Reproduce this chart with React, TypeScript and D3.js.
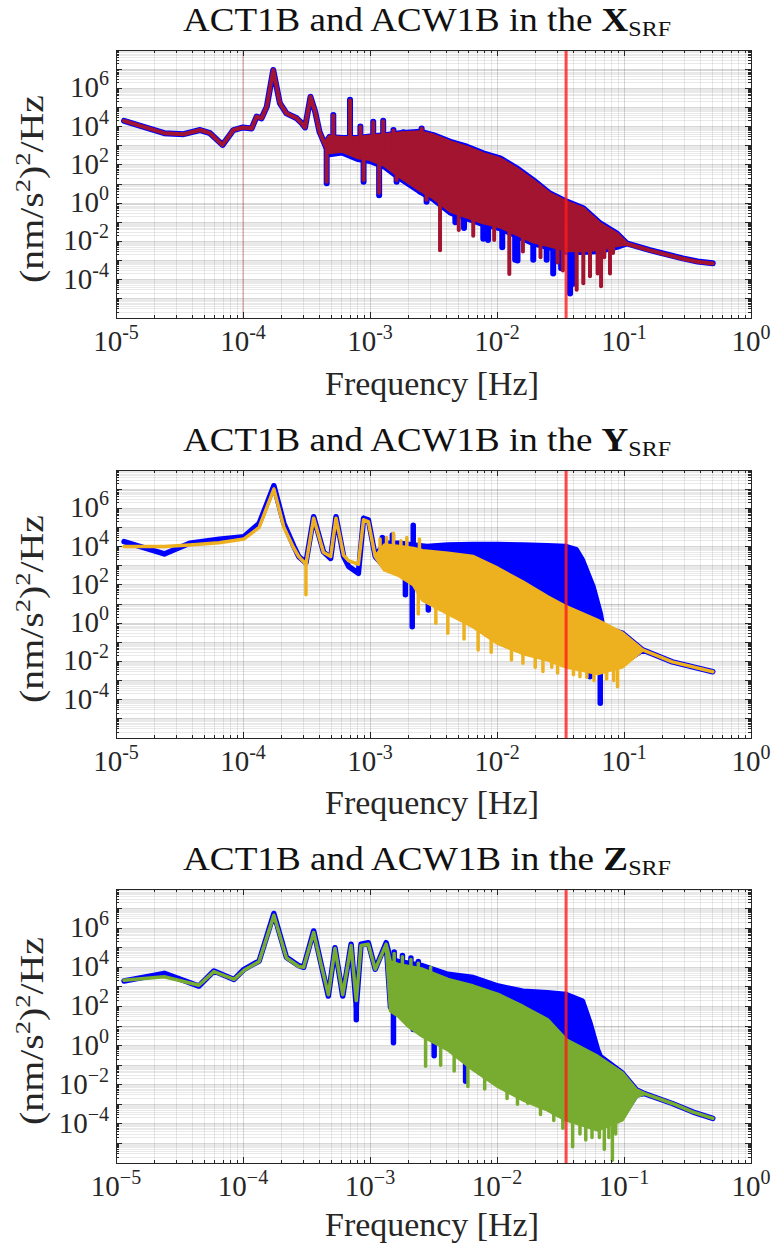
import React from "react";
import * as d3 from "d3";

type Env = [number, number, number][]; // [frequency Hz, upper PSD, lower PSD]
type Spike = [number, number]; // [frequency Hz, PSD reached by the spike]

// ---------------- axes ----------------
const xDomain: [number, number] = [1e-5, 1];
const yDomain: [number, number] = [1e-6, 1e8];
const xTickValues = [1e-5, 1e-4, 1e-3, 1e-2, 1e-1, 1];
const xTickExponents = ["-5", "-4", "-3", "-2", "-1", "0"];
const yTickValues = [1e6, 1e4, 1e2, 1, 1e-2, 1e-4];
const yTickExponents = ["6", "4", "2", "0", "-2", "-4"];
const markerFrequency = 0.035;
const referenceFrequency = 1e-4;
const axisNames = ["X", "Y", "Z"];
const seriesColors = ["#0000ff", "#a2142f", "#edb120", "#77ac30"];

// ---------------- X_SRF ----------------
const xACT1B: Env = [
  [1.157e-5, 2.0e4, 2.0e4], [2.4e-5, 4.5e3, 4.5e3], [3.4e-5, 4.0e3, 4.0e3], [4.6e-5, 6.6e3, 6.6e3],
  [5.5e-5, 4.5e3, 4.5e3], [6.9e-5, 1.1e3, 1.1e3], [8.4e-5, 6.6e3, 6.6e3], [1.0e-4, 9.0e3, 9.0e3],
  [1.17e-4, 8.0e3, 8.0e3], [1.28e-4, 3.3e4, 3.3e4], [1.4e-4, 2.7e4, 2.7e4], [1.54e-4, 1.1e5, 1.1e5],
  [1.73e-4, 9.0e6, 9.0e6], [1.95e-4, 1.7e5, 1.7e5], [2.2e-4, 4.9e4, 4.9e4], [2.65e-4, 2.7e4, 2.7e4],
  [2.9e-4, 1.5e4, 1.5e4], [3.08e-4, 9.0e3, 9.0e3], [3.4e-4, 3.6e5, 3.6e5], [3.7e-4, 6.0e4, 6.0e4],
  [4.0e-4, 5.4e3, 5.4e3], [4.4e-4, 1.2e3, 1.2e3], [4.8e-4, 2.9e3, 3.6e2], [6.0e-4, 2.5e3, 4.4e2],
  [8.0e-4, 2.5e3, 2.0e2], [1.0e-3, 3.0e3, 1.6e2], [1.3e-3, 3.5e3, 8.0e1], [1.72e-3, 4.5e3, 2.0e1],
  [2.48e-3, 5.4e3, 4.0e0], [3.15e-3, 3.6e3, 1.6e0], [4.3e-3, 1.6e3, 3.2e-1], [5.8e-3, 8.9e2, 1.6e-1],
  [7.8e-3, 4.0e2, 8.0e-2], [1.06e-2, 2.2e2, 4.8e-2], [1.43e-2, 6.6e1, 2.0e-2], [1.93e-2, 1.6e1, 8.0e-3],
  [2.61e-2, 3.2e0, 4.8e-3], [3.54e-2, 1.2e0, 2.8e-3], [4.78e-2, 5.4e-1, 2.8e-3], [6.5e-2, 8.7e-2, 3.2e-3],
  [8.8e-2, 2.6e-2, 5.2e-3], [1.05e-1, 7.9e-3, 7.9e-3], [1.6e-1, 3.5e-3, 3.5e-3], [2.9e-1, 1.3e-3, 1.3e-3],
  [3.8e-1, 9.0e-4, 9.0e-4], [5.0e-1, 7.2e-4, 7.2e-4],
];
const xACW1B: Env = [
  [1.157e-5, 2.0e4, 2.0e4], [2.4e-5, 4.5e3, 4.5e3], [3.4e-5, 4.0e3, 4.0e3], [4.6e-5, 6.6e3, 6.6e3],
  [5.5e-5, 4.5e3, 4.5e3], [6.9e-5, 1.1e3, 1.1e3], [8.4e-5, 6.6e3, 6.6e3], [1.0e-4, 9.0e3, 9.0e3],
  [1.17e-4, 8.0e3, 8.0e3], [1.28e-4, 3.3e4, 3.3e4], [1.4e-4, 2.7e4, 2.7e4], [1.54e-4, 1.1e5, 1.1e5],
  [1.73e-4, 9.0e6, 9.0e6], [1.95e-4, 1.7e5, 1.7e5], [2.2e-4, 4.9e4, 4.9e4], [2.65e-4, 2.7e4, 2.7e4],
  [2.9e-4, 1.5e4, 1.5e4], [3.08e-4, 9.0e3, 9.0e3], [3.4e-4, 3.6e5, 3.6e5], [3.7e-4, 6.0e4, 6.0e4],
  [4.0e-4, 5.4e3, 5.4e3], [4.4e-4, 1.2e3, 1.2e3], [4.8e-4, 2.9e3, 4.5e2], [6.0e-4, 2.5e3, 5.5e2],
  [8.0e-4, 2.5e3, 2.5e2], [1.0e-3, 3.0e3, 2.0e2], [1.3e-3, 3.5e3, 1.0e2], [1.72e-3, 4.3e3, 2.5e1],
  [2.48e-3, 5.0e3, 5.0e0], [3.15e-3, 3.4e3, 2.0e0], [4.3e-3, 1.5e3, 4.0e-1], [5.8e-3, 8.0e2, 2.0e-1],
  [7.8e-3, 3.6e2, 1.0e-1], [1.06e-2, 2.0e2, 6.0e-2], [1.43e-2, 6.0e1, 2.5e-2], [1.93e-2, 1.4e1, 1.0e-2],
  [2.61e-2, 3.0e0, 6.0e-3], [3.54e-2, 1.1e0, 3.5e-3], [4.78e-2, 5.0e-1, 3.5e-3], [6.5e-2, 8.0e-2, 4.0e-3],
  [8.8e-2, 2.4e-2, 6.5e-3], [1.05e-1, 7.6e-3, 7.6e-3], [1.6e-1, 3.4e-3, 3.4e-3], [2.9e-1, 1.25e-3, 1.25e-3],
  [3.8e-1, 8.7e-4, 8.7e-4], [5.0e-1, 7.0e-4, 7.0e-4],
];
const xACT1BUp: Spike[] = [
  [5.14e-4, 4.0e4], [6.96e-4, 2.5e5], [8.4e-4, 1.0e4], [1.06e-3, 1.8e4], [1.27e-3, 2.0e4],
  [1.53e-3, 6.6e3], [1.83e-3, 5.0e3], [2.55e-3, 8.0e3],
];
const xACT1BDown: Spike[] = [
  [4.56e-4, 1.1e1], [8.9e-4, 1.3e1], [1.18e-3, 2.6e0], [1.62e-3, 1.3e1], [2.48e-3, 4.0e0],
  [2.79e-3, 1.2e0], [4.7e-3, 1.0e-1], [5.5e-3, 5.0e-2], [7.8e-3, 1.4e-2], [8.5e-3, 1.2e-2],
  [1.1e-2, 5.0e-3], [1.39e-2, 1.1e-3], [1.45e-2, 1.0e-3], [1.93e-2, 1.1e-3], [2.46e-2, 1.1e-3],
  [2.77e-2, 2.1e-4], [3.2e-2, 4.0e-4], [3.76e-2, 1.9e-5], [3.94e-2, 6.0e-5],
];
const xACW1BUp: Spike[] = [
  [5.14e-4, 3.8e4], [6.96e-4, 2.3e5], [8.4e-4, 9.5e3], [1.06e-3, 1.7e4], [1.27e-3, 1.9e4],
  [1.53e-3, 6.2e3], [1.83e-3, 4.8e3], [2.55e-3, 7.6e3],
];
const xACW1BDown: Spike[] = [
  [4.56e-4, 1.3e1], [8.9e-4, 1.6e1], [1.18e-3, 3.5e0], [1.62e-3, 1.6e1], [2.79e-3, 1.5e0],
  [3.56e-3, 3.5e-3], [5.0e-3, 4.0e-2], [6.5e-3, 2.0e-2], [9.5e-3, 1.2e-2], [1.25e-2, 2.0e-4],
  [1.6e-2, 3.0e-3], [2.2e-2, 1.5e-3], [3.0e-2, 8.0e-4], [3.3e-2, 3.0e-4], [4.24e-2, 3.0e-5],
  [4.78e-2, 6.5e-5], [5.4e-2, 1.5e-4], [6.2e-2, 2.1e-4], [6.6e-2, 4.5e-5], [7.0e-2, 1.5e-3],
  [7.76e-2, 2.1e-4], [8.2e-2, 2.5e-3],
];

// ---------------- Y_SRF ----------------
const yACT1B: Env = [
  [1.157e-5, 1.8e4, 1.8e4], [2.4e-5, 4.1e3, 4.1e3], [3.8e-5, 1.5e4, 1.5e4], [6.5e-5, 2.4e4, 2.4e4],
  [1.02e-4, 3.3e4, 3.3e4], [1.34e-4, 1.6e5, 1.6e5], [1.75e-4, 1.5e7, 1.5e7], [2.1e-4, 1.6e5, 1.6e5],
  [2.52e-4, 1.0e4, 1.0e4], [2.75e-4, 3.0e3, 3.0e3], [3.13e-4, 1.4e3, 1.4e3], [3.6e-4, 3.6e5, 3.6e5],
  [4.3e-4, 5.4e3, 5.4e3], [4.9e-4, 2.4e3, 2.4e3], [5.4e-4, 3.6e5, 3.6e5], [6.2e-4, 3.0e3, 3.0e3],
  [6.8e-4, 9.0e2, 9.0e2], [8.1e-4, 4.0e2, 4.0e2], [8.9e-4, 3.0e5, 3.0e5], [9.7e-4, 2.5e5, 2.5e5],
  [1.1e-3, 3.0e3, 3.0e3], [1.3e-3, 1.5e4, 9.0e2], [1.7e-3, 1.5e4, 4.5e2], [2.2e-3, 1.2e4, 1.5e2],
  [2.8e-3, 1.0e4, 2.4e1], [4.1e-3, 1.2e4, 4.8e0], [6.5e-3, 1.3e4, 1.0e0], [1.02e-2, 1.3e4, 1.3e-1],
  [1.6e-2, 1.2e4, 3.9e-2], [2.5e-2, 1.1e4, 1.8e-2], [3.5e-2, 1.0e4, 7.8e-3], [4.2e-2, 7.0e3, 5.5e-3],
  [4.7e-2, 2.0e3, 4.8e-3], [5.7e-2, 8.0e1, 3.9e-3], [6.5e-2, 3.2e0, 3.6e-3], [6.8e-2, 6.0e-1, 3.8e-3],
  [9.7e-2, 3.0e-1, 7.8e-3], [1.4e-1, 4.0e-2, 4.0e-2], [2.4e-1, 9.5e-3, 9.5e-3], [5.0e-1, 2.9e-3, 2.9e-3],
];
const yACW1B: Env = [
  [1.157e-5, 1.0e4, 1.0e4], [2.4e-5, 1.0e4, 1.0e4], [3.8e-5, 1.2e4, 1.2e4], [6.5e-5, 1.6e4, 1.6e4],
  [1.02e-4, 2.5e4, 2.5e4], [1.34e-4, 1.0e5, 1.0e5], [1.75e-4, 1.0e7, 1.0e7], [2.1e-4, 1.0e5, 1.0e5],
  [2.52e-4, 8.0e3, 8.0e3], [2.75e-4, 3.0e3, 3.0e3], [3.13e-4, 1.2e3, 1.2e3], [3.6e-4, 3.0e5, 3.0e5],
  [4.3e-4, 5.0e3, 5.0e3], [4.9e-4, 3.0e3, 3.0e3], [5.4e-4, 3.0e5, 3.0e5], [6.2e-4, 3.5e3, 3.5e3],
  [6.8e-4, 1.8e3, 1.8e3], [8.1e-4, 1.2e3, 1.2e3], [8.9e-4, 2.5e5, 2.5e5], [9.7e-4, 2.0e5, 2.0e5],
  [1.1e-3, 3.0e3, 3.0e3], [1.3e-3, 1.2e4, 6.0e2], [1.7e-3, 1.0e4, 3.0e2], [2.2e-3, 8.0e3, 1.0e2],
  [2.6e-3, 6.0e3, 1.6e1], [4.1e-3, 4.5e3, 3.2e0], [6.5e-3, 3.0e3, 6.5e-1], [1.02e-2, 7.2e2, 8.7e-2],
  [1.6e-2, 1.4e2, 2.6e-2], [2.5e-2, 2.4e1, 1.2e-2], [3.5e-2, 7.2e0, 5.2e-3], [6.2e-2, 1.4e0, 2.3e-3],
  [9.7e-2, 3.0e-1, 5.2e-3], [1.4e-1, 4.0e-2, 4.0e-2], [2.4e-1, 9.5e-3, 9.5e-3], [5.0e-1, 2.9e-3, 2.9e-3],
];
const yACT1BUp: Spike[] = [[1.25e-3, 3.0e4], [1.5e-3, 4.0e4], [2.19e-3, 1.3e5]];
const yACT1BDown: Spike[] = [
  [1.9e-3, 3.0e1], [2.15e-3, 6.5e-1], [2.88e-3, 4.9e0], [5.4e-2, 1.6e-3], [6.5e-2, 6.5e-5],
];
const yACW1BUp: Spike[] = [
  [1.2e-3, 2.5e4], [1.35e-3, 3.0e4], [1.53e-3, 4.9e4], [1.75e-3, 2.0e4], [1.95e-3, 3.0e4], [2.45e-3, 2.5e4],
];
const yACW1BDown: Spike[] = [
  [3.13e-4, 3.0e1], [2.4e-3, 3.0e0], [3.3e-3, 1.0e0], [4.1e-3, 3.0e-1], [5.5e-3, 1.5e-1],
  [7.1e-3, 4.0e-2], [9.0e-3, 3.0e-2], [1.3e-2, 1.2e-2], [1.6e-2, 8.0e-3], [2.0e-2, 5.0e-3],
  [2.3e-2, 3.0e-3], [2.7e-2, 5.0e-3], [3.0e-2, 2.5e-3], [4.0e-2, 2.0e-3], [4.5e-2, 1.6e-3],
  [5.1e-2, 1.5e-3], [5.8e-2, 1.0e-3], [7.3e-2, 1.2e-3], [8.3e-2, 1.0e-3], [8.9e-2, 4.8e-4],
];

// ---------------- Z_SRF ----------------
const zACT1B: Env = [
  [1.157e-5, 2.0e3, 2.0e3], [2.4e-5, 4.9e3, 4.9e3], [4.5e-5, 1.1e3, 1.1e3], [5.9e-5, 6.5e3, 6.5e3],
  [8.5e-5, 2.4e3, 2.4e3], [1.02e-4, 7.9e3, 7.9e3], [1.34e-4, 2.1e4, 2.1e4], [1.75e-4, 5.5e6, 5.5e6],
  [2.2e-4, 3.2e4, 3.2e4], [2.75e-4, 1.2e4, 1.2e4], [3.0e-4, 1.0e4, 1.0e4], [3.6e-4, 7.2e5, 7.2e5],
  [4.1e-4, 1.7e4, 1.7e4], [4.7e-4, 3.4e2, 3.4e2], [5.3e-4, 1.0e5, 1.0e5], [6.1e-4, 3.4e2, 3.4e2],
  [7.1e-4, 1.5e5, 1.5e5], [7.8e-4, 1.0e2, 1.0e2], [8.5e-4, 1.5e5, 1.5e5], [9.7e-4, 1.8e5, 1.8e5],
  [1.1e-3, 8.0e3, 8.0e3], [1.34e-3, 1.8e5, 1.8e5], [1.45e-3, 2.5e4, 9.0e1], [1.67e-3, 2.0e4, 4.8e1],
  [2.0e-3, 1.6e4, 1.5e1], [2.6e-3, 1.2e4, 4.5e0], [4.1e-3, 4.4e3, 9.3e-1], [6.5e-3, 3.0e3, 8.9e-2],
  [1.02e-2, 1.1e3, 1.2e-2], [1.6e-2, 6.0e2, 2.6e-3], [2.5e-2, 5.0e2, 7.8e-4], [3.5e-2, 4.1e2, 2.4e-4],
  [4.7e-2, 1.9e2, 1.2e-4], [5.4e-2, 1.4e1, 1.0e-4], [6.2e-2, 6.0e-1, 7.4e-5], [6.5e-2, 2.8e-1, 8.3e-5],
  [9.7e-2, 4.0e-2, 2.4e-4], [1.25e-1, 5.5e-3, 3.0e-3], [1.45e-1, 3.5e-3, 3.5e-3], [2.4e-1, 1.1e-3, 1.1e-3],
  [3.5e-1, 4.0e-4, 4.0e-4], [5.0e-1, 1.9e-4, 1.9e-4],
];
const zACW1B: Env = [
  [1.157e-5, 2.2e3, 2.2e3], [2.4e-5, 3.3e3, 3.3e3], [4.5e-5, 1.2e3, 1.2e3], [5.9e-5, 6.0e3, 6.0e3],
  [8.5e-5, 2.4e3, 2.4e3], [1.02e-4, 7.0e3, 7.0e3], [1.34e-4, 2.0e4, 2.0e4], [1.75e-4, 4.5e6, 4.5e6],
  [2.2e-4, 3.0e4, 3.0e4], [2.75e-4, 1.1e4, 1.1e4], [3.0e-4, 1.0e4, 1.0e4], [3.6e-4, 6.0e5, 6.0e5],
  [4.1e-4, 1.6e4, 1.6e4], [4.7e-4, 4.0e2, 4.0e2], [5.3e-4, 9.0e4, 9.0e4], [6.1e-4, 4.0e2, 4.0e2],
  [7.1e-4, 1.3e5, 1.3e5], [7.8e-4, 2.0e2, 2.0e2], [8.5e-4, 1.3e5, 1.3e5], [9.7e-4, 1.5e5, 1.5e5],
  [1.1e-3, 8.0e3, 8.0e3], [1.34e-3, 1.5e5, 1.5e5], [1.45e-3, 1.8e4, 6.0e1], [1.67e-3, 1.4e4, 3.2e1],
  [2.0e-3, 1.1e4, 1.0e1], [2.6e-3, 7.9e3, 3.0e0], [4.1e-3, 2.4e3, 6.2e-1], [6.5e-3, 1.1e3, 5.9e-2],
  [1.02e-2, 4.1e2, 8.1e-3], [1.6e-2, 1.0e2, 1.7e-3], [2.5e-2, 2.1e1, 5.2e-4], [3.5e-2, 2.0e0, 1.6e-4],
  [6.2e-2, 2.8e-1, 4.9e-5], [9.7e-2, 4.0e-2, 1.6e-4], [1.25e-1, 5.5e-3, 2.5e-3], [1.45e-1, 3.5e-3, 3.5e-3],
  [2.4e-1, 1.1e-3, 1.1e-3], [3.5e-1, 4.0e-4, 4.0e-4], [5.0e-1, 1.9e-4, 1.9e-4],
];
const zACT1BUp: Spike[] = [[1.55e-3, 6.0e4], [1.8e-3, 4.0e4], [2.1e-3, 3.0e4], [2.4e-3, 2.0e4]];
const zACT1BDown: Spike[] = [
  [7.8e-4, 2.1e1], [1.53e-3, 1.4e0], [2.19e-3, 6.6e0], [3.2e-3, 3.0e-1], [5.66e-3, 1.5e-2], [7.35e-3, 8.7e-2],
];
const zACW1BUp: Spike[] = [[1.55e-3, 5.0e4], [1.8e-3, 3.5e4], [2.1e-3, 2.5e4], [2.4e-3, 1.6e4], [3.0e-3, 1.0e4]];
const zACW1BDown: Spike[] = [
  [2.74e-3, 8.7e-2], [3.6e-3, 1.0e-1], [4.6e-3, 5.0e-2], [5.9e-3, 8.1e-3], [8.0e-3, 6.0e-3],
  [1.2e-2, 2.0e-3], [1.45e-2, 1.0e-3], [1.75e-2, 1.1e-3], [2.2e-2, 3.0e-4], [2.8e-2, 1.5e-4],
  [3.3e-2, 6.0e-5], [3.94e-2, 6.8e-6], [4.5e-2, 3.0e-5], [5.0e-2, 1.5e-5], [5.6e-2, 2.0e-5],
  [6.4e-2, 2.0e-5], [7.0e-2, 5.0e-6], [7.6e-2, 2.0e-5], [8.1e-2, 1.4e-6], [8.6e-2, 3.0e-5],
];

// ---------------- layout (styling, not data) ----------------
const X0 = 116;
const X1 = 751;
const FONT = "Liberation Serif, Times New Roman, serif";
const TXT = "#262626";

interface SeriesDef { env: Env; up: Spike[]; down: Spike[]; color: string; width: number }
interface PanelDef {
  top: number; bottom: number; titleY: number; xlabelY: number; minus: string;
  axis: string; series: SeriesDef[]; refLine: boolean;
}

const panels: PanelDef[] = [
  {
    top: 50, bottom: 318, titleY: 31, xlabelY: 395, minus: "-", axis: axisNames[0], refLine: true,
    series: [
      { env: xACT1B, up: xACT1BUp, down: xACT1BDown, color: seriesColors[0], width: 6 },
      { env: xACW1B, up: xACW1BUp, down: xACW1BDown, color: seriesColors[1], width: 4 },
    ],
  },
  {
    top: 470, bottom: 738, titleY: 451, xlabelY: 814, minus: "-", axis: axisNames[1], refLine: false,
    series: [
      { env: yACT1B, up: yACT1BUp, down: yACT1BDown, color: seriesColors[0], width: 5.5 },
      { env: yACW1B, up: yACW1BUp, down: yACW1BDown, color: seriesColors[2], width: 3.5 },
    ],
  },
  {
    top: 889, bottom: 1163, titleY: 870, xlabelY: 1236, minus: "\u2212", axis: axisNames[2], refLine: false,
    series: [
      { env: zACT1B, up: zACT1BUp, down: zACT1BDown, color: seriesColors[0], width: 5.5 },
      { env: zACW1B, up: zACW1BUp, down: zACW1BDown, color: seriesColors[3], width: 3.5 },
    ],
  },
];

function envMidAt(env: Env, f: number): number {
  const lf = Math.log10(f);
  for (let i = 0; i < env.length - 1; i++) {
    const a = env[i], b = env[i + 1];
    if (f >= a[0] && f <= b[0]) {
      const t = (lf - Math.log10(a[0])) / (Math.log10(b[0]) - Math.log10(a[0]));
      const ma = (Math.log10(a[1]) + Math.log10(a[2])) / 2;
      const mb = (Math.log10(b[1]) + Math.log10(b[2])) / 2;
      return Math.pow(10, ma + t * (mb - ma));
    }
  }
  const last = env[env.length - 1];
  return Math.sqrt(last[1] * last[2]);
}

function Panel({ p, idx }: { p: PanelDef; idx: number }) {
  const x = d3.scaleLog().domain(xDomain).range([X0, X1]);
  const y = d3.scaleLog().domain(yDomain).range([p.bottom, p.top]);
  const clipId = `clip${idx}`;

  const minorX: number[] = [];
  for (let k = -5; k <= -1; k++) for (let m = 2; m <= 9; m++) minorX.push(m * Math.pow(10, k));
  const majorX: number[] = [];
  for (let k = -5; k <= 0; k++) majorX.push(Math.pow(10, k));
  const minorY: number[] = [];
  for (let k = -6; k <= 7; k++) for (let m = 2; m <= 9; m++) minorY.push(m * Math.pow(10, k));
  const majorY: number[] = [];
  for (let k = -6; k <= 8; k++) majorY.push(Math.pow(10, k));

  const area = d3
    .area<[number, number, number]>()
    .x((d) => x(d[0]))
    .y0((d) => y(d[2]))
    .y1((d) => y(d[1]));

  const cy = (p.top + p.bottom) / 2;
  const tickMajor = 6;
  const tickMinor = 3;

  return (
    <g>
      <defs>
        <clipPath id={clipId}>
          <rect x={X0} y={p.top} width={X1 - X0} height={p.bottom - p.top} />
        </clipPath>
      </defs>
      <rect x={X0} y={p.top} width={X1 - X0} height={p.bottom - p.top} fill="#fff" />
      <g shapeRendering="crispEdges">
        {minorX.map((f, i) => (
          <line key={`mx${i}`} x1={x(f)} x2={x(f)} y1={p.top} y2={p.bottom} stroke="#262626" strokeOpacity={0.1} />
        ))}
        {minorY.map((v, i) => (
          <line key={`my${i}`} x1={X0} x2={X1} y1={y(v)} y2={y(v)} stroke="#262626" strokeOpacity={0.1} />
        ))}
        {majorX.map((f, i) => (
          <line key={`Mx${i}`} x1={x(f)} x2={x(f)} y1={p.top} y2={p.bottom} stroke="#262626" strokeOpacity={0.18} />
        ))}
        {majorY.map((v, i) => (
          <line key={`My${i}`} x1={X0} x2={X1} y1={y(v)} y2={y(v)} stroke="#262626" strokeOpacity={0.18} />
        ))}
      </g>
      <g clipPath={`url(#${clipId})`}>
        {p.refLine && (
          <line x1={x(referenceFrequency)} x2={x(referenceFrequency)} y1={p.top} y2={p.bottom} stroke="#c83030" strokeOpacity={0.45} strokeWidth={1} />
        )}
        {p.series.map((s, si) => (
          <g key={`s${si}`}>
            <path d={area(s.env) || ""} fill={s.color} stroke={s.color} strokeWidth={s.width} strokeLinejoin="round" strokeLinecap="round" />
            {s.down.concat(s.up).map((sp, k) => (
              <line key={`sp${k}`} x1={x(sp[0])} x2={x(sp[0])} y1={y(envMidAt(s.env, sp[0]))} y2={y(sp[1])} stroke={s.color} strokeWidth={s.width} strokeLinecap="round" />
            ))}
          </g>
        ))}
        <line x1={x(markerFrequency)} x2={x(markerFrequency)} y1={p.top} y2={p.bottom} stroke="#ff1a1a" strokeOpacity={0.8} strokeWidth={3} />
      </g>
      <g stroke={TXT} strokeWidth={1} shapeRendering="crispEdges">
        {minorX.map((f, i) => (
          <g key={`tx${i}`}>
            <line x1={x(f)} x2={x(f)} y1={p.bottom} y2={p.bottom - tickMinor} />
            <line x1={x(f)} x2={x(f)} y1={p.top} y2={p.top + tickMinor} />
          </g>
        ))}
        {majorX.map((f, i) => (
          <g key={`TX${i}`}>
            <line x1={x(f)} x2={x(f)} y1={p.bottom} y2={p.bottom - tickMajor} />
            <line x1={x(f)} x2={x(f)} y1={p.top} y2={p.top + tickMajor} />
          </g>
        ))}
        {minorY.map((v, i) => (
          <g key={`ty${i}`}>
            <line x1={X0} x2={X0 + tickMinor} y1={y(v)} y2={y(v)} />
            <line x1={X1} x2={X1 - tickMinor} y1={y(v)} y2={y(v)} />
          </g>
        ))}
        {majorY.map((v, i) => (
          <g key={`TY${i}`}>
            <line x1={X0} x2={X0 + tickMajor} y1={y(v)} y2={y(v)} />
            <line x1={X1} x2={X1 - tickMajor} y1={y(v)} y2={y(v)} />
          </g>
        ))}
        <rect x={X0} y={p.top} width={X1 - X0} height={p.bottom - p.top} fill="none" />
      </g>
      <g fontFamily={FONT} fill={TXT}>
        {xTickValues.map((f, i) => (
          <text key={`xl${i}`} x={x(f)} y={p.bottom + 33} textAnchor="middle" fontSize={29}>
            10<tspan fontSize={20} dy={-12}>{xTickExponents[i].replace("-", p.minus)}</tspan>
          </text>
        ))}
        {yTickValues.map((v, i) => (
          <text key={`yl${i}`} x={109} y={y(v) + 9} textAnchor="end" fontSize={29}>
            10<tspan fontSize={20} dy={-12}>{yTickExponents[i].replace("-", p.minus)}</tspan>
          </text>
        ))}
        <text x={432} y={p.xlabelY} textAnchor="middle" fontSize={34} textLength={214} lengthAdjust="spacingAndGlyphs">
          Frequency [Hz]
        </text>
        <text
          transform={`translate(43, ${cy + 5}) rotate(-90)`}
          textAnchor="middle"
          fontSize={33}
          textLength={188}
          lengthAdjust="spacingAndGlyphs"
        >
          (nm/s<tspan fontSize={22} dy={-13}>2</tspan>
          <tspan dy={13}>)</tspan>
          <tspan fontSize={22} dy={-13}>2</tspan>
          <tspan dy={13}>/Hz</tspan>
        </text>
        <text x={427} y={p.titleY} textAnchor="middle" fontSize={34} fill="#111" textLength={488} lengthAdjust="spacingAndGlyphs">
          ACT1B and ACW1B in the <tspan fontWeight="bold">{p.axis}</tspan>
          <tspan fontSize={22} dy={5}>SRF</tspan>
        </text>
      </g>
    </g>
  );
}

export default function App() {
  return (
    <svg
      width={777}
      height={1247}
      viewBox="0 0 777 1247"
      style={{ position: "absolute", left: 0, top: 0, background: "#fff" }}
    >
      <rect x={0} y={0} width={777} height={1247} fill="#fff" />
      {panels.map((p, i) => (
        <Panel key={i} p={p} idx={i} />
      ))}
    </svg>
  );
}
